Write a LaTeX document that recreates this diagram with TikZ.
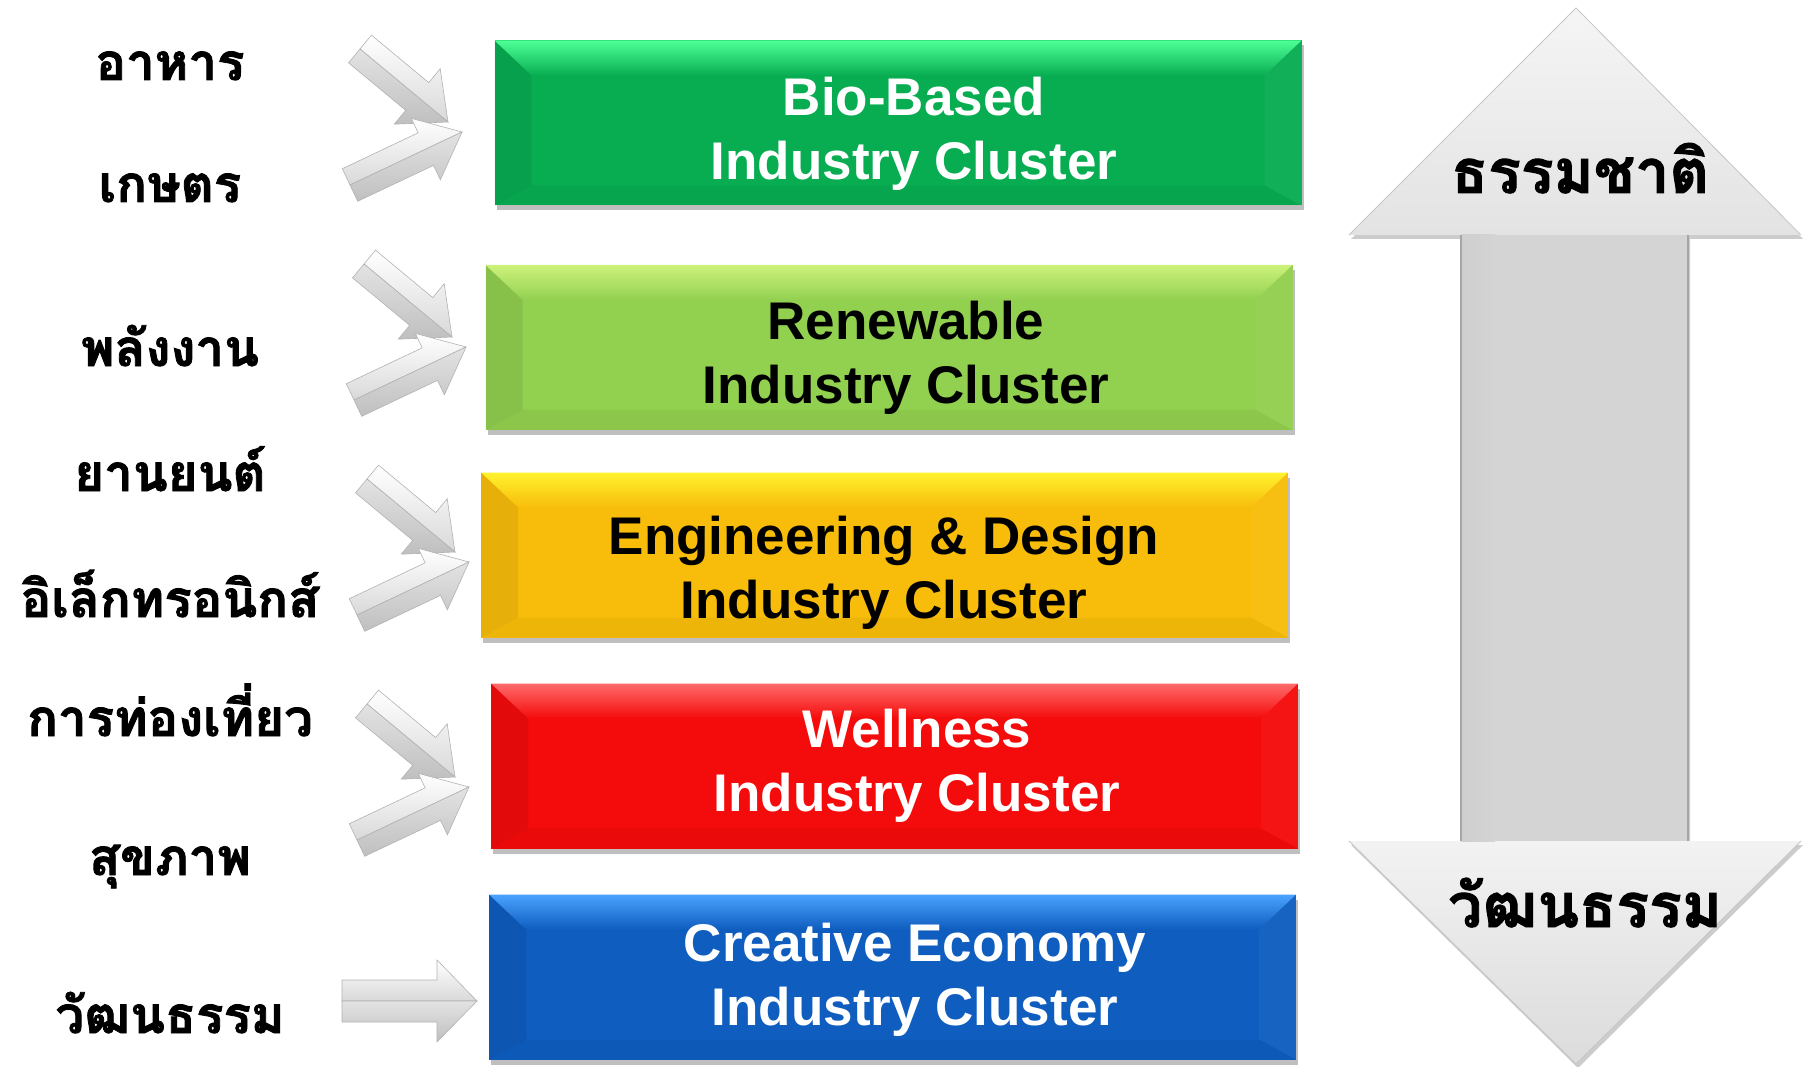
\documentclass[tikz,border=0pt]{standalone}
\usepackage{fontspec}
\setmainfont{Liberation Sans}
\newfontfamily\thaifont[Script=Thai, BoldFeatures={FakeBold=1.6}]{Loma}
\usetikzlibrary{calc,shadows}

\definecolor{bioG}{HTML}{08AD52}
\definecolor{bioT}{HTML}{4DFF96}
\definecolor{renG}{HTML}{92D050}
\definecolor{renT}{HTML}{CDF27C}
\definecolor{engY}{HTML}{F8BD0A}
\definecolor{engT}{HTML}{FFF22E}
\definecolor{welR}{HTML}{F40B0B}
\definecolor{welT}{HTML}{FF6B6B}
\definecolor{creB}{HTML}{0E5DBF}
\definecolor{creT}{HTML}{4BA3FF}
\definecolor{arrowgray}{HTML}{D4D4D4}

\tikzset{
  cluster/.style 2 args={minimum width=807pt, minimum height=165pt, inner sep=0pt, fill=#1,
    drop shadow={shadow xshift=2pt, shadow yshift=-5pt, opacity=.25, fill=black},
    path picture={
      \coordinate (nw) at (path picture bounding box.north west);
      \coordinate (ne) at (path picture bounding box.north east);
      \coordinate (sw) at (path picture bounding box.south west);
      \coordinate (se) at (path picture bounding box.south east);
      \shade[top color=#2, bottom color=#1] (nw) -- (ne) -- ([shift={(-37pt,-35pt)}]ne) -- ([shift={(37pt,-35pt)}]nw) -- cycle;
      \fill[black, opacity=.07] (nw) -- ([shift={(37pt,-35pt)}]nw) -- ([shift={(37pt,20pt)}]sw) -- (sw) -- cycle;
      \fill[white, opacity=.04] (ne) -- ([shift={(-37pt,-35pt)}]ne) -- ([shift={(-37pt,20pt)}]se) -- (se) -- cycle;
      \fill[black, opacity=.04] (sw) -- ([shift={(37pt,20pt)}]sw) -- ([shift={(-37pt,20pt)}]se) -- (se) -- cycle;
    }},
  clustertext/.style={align=center, font=\fontsize{53}{64}\selectfont\bfseries},
  thailabel/.style={anchor=base, font=\thaifont\fontsize{51}{60}\selectfont\bfseries},
  bigthai/.style={anchor=base, font=\thaifont\fontsize{61}{70}\selectfont\bfseries},
}

% bevelled grey arrow: tail, tip, shaft half width, head half width, head length
\newcommand{\bevarrow}[5]{%
  \coordinate (hb) at ($(#2)!#5!(#1)$);
  \shadedraw[top color=white, bottom color=gray!30, draw=gray!60, line width=.6pt]
    (#1) -- ($(#1)!#3!90:(#2)$) -- ($(hb)!#3!90:(#2)$) -- ($(hb)!#4!90:(#2)$) -- (#2) -- cycle;
  \shadedraw[top color=gray!22, bottom color=gray!50, draw=gray!60, line width=.6pt]
    (#1) -- ($(#1)!#3!-90:(#2)$) -- ($(hb)!#3!-90:(#2)$) -- ($(hb)!#4!-90:(#2)$) -- (#2) -- cycle;
}

\begin{document}
\begin{tikzpicture}[x=1pt, y=-1pt]
\useasboundingbox (0,0) rectangle (1814,1067);

% clusters
\node[cluster={bioG}{bioT}] (bio) at (898,123) {};
\node[cluster={renG}{renT}] (ren) at (889,347.5) {};
\node[cluster={engY}{engT}] (eng) at (884.5,555) {};
\node[cluster={welR}{welT}] (wel) at (894.5,766) {};
\node[cluster={creB}{creT}] (cre) at (892.5,977) {};

\node[clustertext, white] (bioText) at (914,134) {Bio-Based\\Industry Cluster};
\node[clustertext, black] (renText) at (906,358) {Renewable\\Industry Cluster};
\node[clustertext, black] (engText) at (884,573) {Engineering \& Design\\Industry Cluster};
\node[clustertext, white] (welText) at (917,766) {Wellness\\Industry Cluster};
\node[clustertext, white] (creText) at (915,980) {Creative Economy\\Industry Cluster};

% sectors
\node[thailabel] (food) at (170,80) {อาหาร};
\node[thailabel] (farm) at (170,202) {เกษตร};
\node[thailabel] (energy) at (170,366) {พลังงาน};
\node[thailabel] (auto) at (170,491) {ยานยนต์};
\node[thailabel] (elec) at (170,617) {อิเล็กทรอนิกส์};
\node[thailabel] (tour) at (170,736) {การท่องเที่ยว};
\node[thailabel] (health) at (170,875) {สุขภาพ};
\node[thailabel] (culture) at (170,1033) {วัฒนธรรม};

% arrows into clusters
\foreach \dx/\dy in {0/0, 4/215, 7/430, 7/655}{
  \coordinate (ua) at (360+\dx,49+\dy);
  \coordinate (ub) at (448+\dx,122+\dy);
  \coordinate (la) at (350+\dx,185+\dy);
  \coordinate (lb) at (462+\dx,132+\dy);
  \bevarrow{ua}{ub}{18pt}{36pt}{40pt}
  \bevarrow{la}{lb}{18pt}{34pt}{40pt}
}
\coordinate (ca) at (342,1001);
\coordinate (cb) at (477,1001);
\bevarrow{ca}{cb}{21pt}{41pt}{40pt}

% nature <-> culture
\fill[arrowgray, drop shadow={shadow xshift=2pt, shadow yshift=-4pt, opacity=.2, fill=black}]
  (1576,8) -- (1801,235) -- (1688,235) -- (1688,841) -- (1801,841) -- (1576,1064)
  -- (1349,841) -- (1461,841) -- (1461,235) -- (1349,235) -- cycle;
\shade[top color=gray!8, bottom color=gray!22] (1576,8) -- (1801,235) -- (1349,235) -- cycle;
\shade[top color=gray!10, bottom color=gray!28] (1349,841) -- (1801,841) -- (1576,1064) -- cycle;
\shade[left color=gray!38, right color=arrowgray] (1461,235) rectangle (1495,841);
\draw[gray!70, line width=1.2pt] (1461,235) -- (1461,841) (1688,235) -- (1688,841);
\draw[gray!45, line width=.8pt] (1349,235) -- (1576,8) -- (1801,235) (1349,841) -- (1576,1064) -- (1801,841);

\node[bigthai] (nature) at (1580,193) {ธรรมชาติ};
\node[bigthai] (heritage) at (1585,927) {วัฒนธรรม};
\end{tikzpicture}
\end{document}
